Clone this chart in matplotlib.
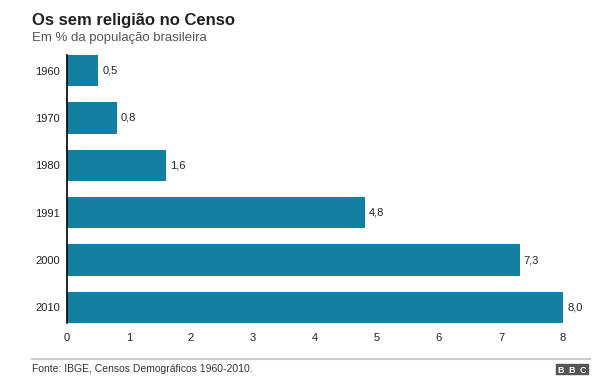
import matplotlib.pyplot as plt
from matplotlib.patches import Rectangle

# dados
anos = ["1960", "1970", "1980", "1991", "2000", "2010"]
valores = [0.5, 0.8, 1.6, 4.8, 7.3, 8.0]
rotulos = ["0,5", "0,8", "1,6", "4,8", "7,3", "8,0"]
xticks = [0, 1, 2, 3, 4, 5, 6, 7, 8]

plt.rcParams['font.family'] = ['Liberation Sans', 'DejaVu Sans']

W, H = 600, 387
fig = plt.figure(figsize=(6, 3.87), dpi=100)
ax = fig.add_axes([67 / W, (H - 323) / H, (563 - 67) / W, 268 / H])

cor = "#1380A1"
pos = list(range(len(anos)))
ax.barh(pos, valores, height=0.66, color=cor)
ax.set_ylim(len(anos) - 1 + 0.33, -0.33)
ax.set_xlim(0, 8)

for p, v, r in zip(pos, valores, rotulos):
    ax.annotate(r, (v, p), xytext=(3, 0), textcoords="offset points",
                va="center", ha="left", fontsize=8, color="#222222")

ax.set_yticks(pos)
ax.set_yticklabels(anos, fontsize=8, color="#222222")
ax.set_xticks(xticks)
ax.set_xticklabels([str(t) for t in xticks], fontsize=8, color="#222222")
ax.tick_params(axis="both", length=0)
ax.tick_params(axis="x", pad=7)
ax.tick_params(axis="y", pad=5)

for s in ["top", "right", "bottom"]:
    ax.spines[s].set_visible(False)
ax.spines["left"].set_color("black")
ax.spines["left"].set_linewidth(1.2)

# textos
fig.text(32 / W, 1 - 20 / H, "Os sem religião no Censo", fontsize=12,
         fontweight="bold", color="#222222", va="center", ha="left")
fig.text(32 / W, 1 - 38 / H, "Em % da população brasileira", fontsize=9.5,
         color="#555555", va="center", ha="left")

# linha separadora e fonte
fig.add_artist(plt.Line2D([32 / W, 590 / W], [1 - 359 / H, 1 - 359 / H],
                          color="#cccccc", linewidth=1.5))
fig.text(32 / W, 1 - 369 / H, "Fonte: IBGE, Censos Demográficos 1960-2010.",
         fontsize=7.5, color="#333333", va="center", ha="left")

# logo BBC
for i, letra in enumerate("BBC"):
    x0 = 556 + i * 11
    fig.add_artist(Rectangle((x0 / W, 1 - 374 / H), 10 / W, 10 / H,
                             transform=fig.transFigure, color="#555555"))
    fig.text((x0 + 5) / W, 1 - 373 / H, letra, fontsize=6.5, color="white",
             fontweight="bold", va="baseline", ha="center")

fig.savefig("out.png", dpi=100, facecolor="white")
